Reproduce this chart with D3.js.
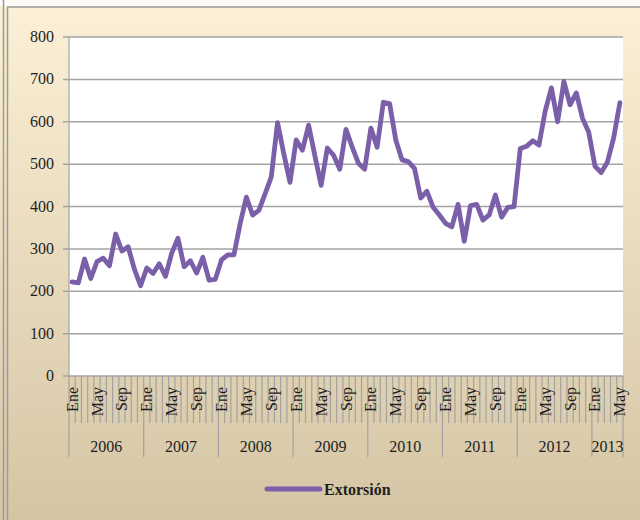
<!DOCTYPE html>
<meta charset="utf-8">
<style>
  body { margin: 0; background: #fff; }
  svg { display: block; font-family: "Liberation Serif", "DejaVu Serif", serif; }
  .grid line { stroke: #a3a3a3; stroke-width: 1.5px; }
  .ylab { font-size: 16px; fill: #1e1e1e; }
  .mlab { font-size: 16px; fill: #1e1e1e; }
  .year { font-size: 16px; fill: #1e1e1e; }
  .tick { stroke: #a3a3a3; stroke-width: 1.2px; }
</style>
<svg width="640" height="520" id="chart"></svg>
<script src="https://d3js.org/d3.v7.min.js"></script>
<script>
// months shown on the axis (Spanish)
var months = ["Ene","Feb","Mar","Abr","May","Jun","Jul","Ago","Sep","Oct","Nov","Dic"];
var years = ["2006","2007","2008","2009","2010","2011","2012","2013"];
var yTicks = [0,100,200,300,400,500,600,700,800];
var seriesName = "Extorsión";

// monthly values, Ene 2006 .. May 2013
var v2006 = [222,220,276,230,270,278,260,335,295,305,252,213];
var v2007 = [255,242,265,235,290,325,258,272,243,280,226,228];
var v2008 = [274,286,286,360,422,380,391,430,470,598,525,457];
var v2009 = [557,533,592,520,450,538,521,488,582,540,502,488];
var v2010 = [585,540,646,643,557,510,506,490,420,436,398,380];
var v2011 = [360,352,405,318,402,405,368,380,427,375,398,400];
var v2012 = [537,542,555,545,625,680,600,695,640,668,608,575];
var v2013 = [495,480,505,562,645];

var values = [].concat(v2006, v2007, v2008, v2009, v2010, v2011, v2012, v2013);
var data = values.map(function(v, i) {
  return { i: i, month: months[i % 12], year: years[Math.floor(i / 12)], value: v };
});

var svg = d3.select("#chart");
var pLeft = 69, pRight = 623, pTop = 37, pBottom = 376;

// background
var defs = svg.append("defs");
var grad = defs.append("linearGradient").attr("id", "bg").attr("x1", 0).attr("y1", 0).attr("x2", 0).attr("y2", 1);
grad.append("stop").attr("offset", "0%").attr("stop-color", "#fcf0d6");
grad.append("stop").attr("offset", "100%").attr("stop-color", "#d4c5a4");

svg.append("rect").attr("x", 0).attr("y", 0).attr("width", 640).attr("height", 520).attr("fill", "url(#bg)");
svg.append("rect").attr("x", 0).attr("y", 0).attr("width", 640).attr("height", 6).attr("fill", "#fbfaf6");
svg.append("line").attr("x1", 3.5).attr("x2", 3.5).attr("y1", 0).attr("y2", 520).attr("stroke", "#9a9a9a").attr("stroke-width", 1.5);
svg.append("line").attr("x1", 7.5).attr("x2", 7.5).attr("y1", 7).attr("y2", 520).attr("stroke", "#9a9a9a").attr("stroke-width", 1.5);
svg.append("line").attr("x1", 7).attr("x2", 640).attr("y1", 7).attr("y2", 7).attr("stroke", "#9a9a9a").attr("stroke-width", 1.5);

var x = d3.scaleBand().domain(data.map(function(d) { return d.i; })).range([pLeft, pRight]);
var y = d3.scaleLinear().domain([0, 800]).range([pBottom, pTop]);

svg.append("rect").attr("x", pLeft).attr("y", pTop).attr("width", pRight - pLeft).attr("height", pBottom - pTop).attr("fill", "#fff");

// gridlines + y labels
var grid = svg.append("g").attr("class", "grid");
grid.selectAll("line").data(yTicks).enter().append("line")
  .attr("x1", pLeft - 6).attr("x2", pRight)
  .attr("y1", function(d) { return y(d); }).attr("y2", function(d) { return y(d); });
svg.selectAll(".ylab").data(yTicks).enter().append("text")
  .attr("class", "ylab")
  .attr("x", 54).attr("y", function(d) { return y(d) + 5; })
  .attr("text-anchor", "end")
  .text(function(d) { return d; });

svg.append("line").attr("class", "tick").attr("x1", pLeft).attr("x2", pLeft).attr("y1", pTop).attr("y2", pBottom);

// category axis: month boundaries
var bounds = data.map(function(d) { return x(d.i); }).concat([pRight]);
svg.selectAll(".mtick").data(bounds).enter().append("line")
  .attr("class", "tick")
  .attr("x1", function(d) { return d; }).attr("x2", function(d) { return d; })
  .attr("y1", pBottom).attr("y2", function(d, i) { return (i % 12 === 0 || i === bounds.length - 1) ? 457 : 423; });

svg.selectAll(".mlab").data(data.filter(function(d) { return d.i % 4 === 0; })).enter().append("text")
  .attr("class", "mlab")
  .attr("transform", function(d) { return "translate(" + (x(d.i) + x.bandwidth() / 2 + 5.5) + ",387) rotate(-90)"; })
  .attr("text-anchor", "end")
  .text(function(d) { return d.month; });

// year labels
var yearSpans = years.map(function(yr) {
  var idx = data.filter(function(d) { return d.year === yr; });
  return { year: yr, x0: x(idx[0].i), x1: x(idx[idx.length - 1].i) + x.bandwidth() };
});
svg.selectAll(".year").data(yearSpans).enter().append("text")
  .attr("class", "year")
  .attr("x", function(d) { return (d.x0 + d.x1) / 2; })
  .attr("y", 452)
  .attr("text-anchor", "middle")
  .text(function(d) { return d.year; });

// the series
var line = d3.line()
  .x(function(d) { return x(d.i) + x.bandwidth() / 2; })
  .y(function(d) { return y(d.value); });

svg.append("path").datum(data)
  .attr("d", line)
  .attr("fill", "none")
  .attr("stroke", "#7b60a9")
  .attr("stroke-width", 4.8)
  .attr("stroke-linejoin", "round")
  .attr("stroke-linecap", "round");

// legend
svg.append("line").attr("x1", 267).attr("x2", 320).attr("y1", 489).attr("y2", 489)
  .attr("stroke", "#7b60a9").attr("stroke-width", 5).attr("stroke-linecap", "round");
svg.append("text").attr("x", 324).attr("y", 495)
  .style("font-size", "16px").style("font-weight", "bold").style("fill", "#1e1e1e")
  .text(seriesName);
</script>
